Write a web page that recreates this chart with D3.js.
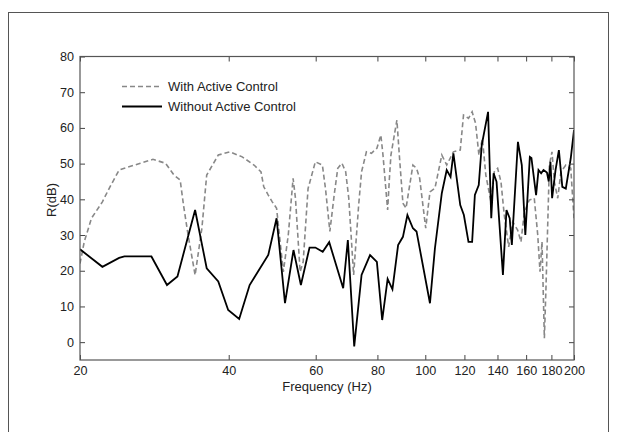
<!DOCTYPE html>
<html>
<head>
<meta charset="utf-8">
<script src="https://cdn.jsdelivr.net/npm/d3@7"></script>
<style>
  body { margin: 0; background: #fff; }
  svg { display: block; font-family: "Liberation Sans", Arial, sans-serif; }
</style>
</head>
<body>
<svg width="618" height="432"></svg>
<script>
// frequencies (Hz) and R (dB)
var withFreq = [20, 20.4, 21.1, 22.2, 23.0, 24.0, 24.6, 26.5, 28.1, 29.8, 31.0, 31.9, 32.4, 33.1, 34.2, 35.3, 36.1, 38.1, 40.2, 42.6, 45.0, 46.5, 47.1, 48.1, 49.0, 50.0,
  51.6, 52.8, 54.0, 54.6, 55.8, 56.6, 57.9, 59.9, 61.9, 62.8, 64.1, 65.4, 66.5, 67.8, 69.0, 70.0, 71.6, 73.3, 74.3, 76.0, 77.8, 79.8, 81.3, 82.1, 83.9, 84.6, 85.2, 87.6, 88.6,
  90.1, 91.4, 94.4, 96.0, 97.4, 100.2, 102.2, 104.6, 108, 110.5, 114, 117.7, 119.5, 122.3, 124.4, 126.4, 128.4, 130.5, 132.6, 135.8, 137.9, 140.1, 142.3, 144.5,
  147.5, 150.3, 153.8, 156.2, 158.7, 162.4, 166.2, 168.9, 170.7, 172.3, 174.2, 175.5, 178.3, 180.5, 182.5, 185.4, 188.2, 192.5, 197, 200];
var withVal = [22, 28.1, 34.7, 39.3, 43.5, 48.2, 48.7, 50.1, 51.2, 50.1, 46.8, 45.4, 38.4, 30, 18.8, 31.9, 46.8, 52.4, 53.3, 51.9, 49.6, 47.7, 43.5, 41.2, 39.3, 37.5,
  19.7, 30, 45.9, 40.3, 19.7, 22.5, 43, 50.5, 49.6, 43, 31, 41.2, 48.7, 50.1, 47.7, 40.3, 18.8, 38.4, 47.7, 53.3, 52.9, 54.3, 58, 52.4, 37, 45.9, 52.4, 62.2, 52.4,
  38.9, 37.5, 49.6, 48.7, 45.9, 31.9, 42.1, 43.1, 52.4, 49.6, 53.3, 53.8, 63.6, 62.7, 64.5, 61.3, 52.4, 57, 46.8, 39.3, 47.7, 48.7, 44.9, 35.6,
  26.7, 33.7, 31.4, 28.1, 36.5, 39.8, 40.3, 30, 19.7, 28.1, 1.1, 15.1, 49.6, 53.3, 44.9, 40.3, 47.7, 49.6, 48.7, 34.7];

var withoutFreq = [20, 22.2, 24.0, 24.6, 27.9, 30.0, 31.5, 34.2, 36.1, 38.1, 39.9, 42.0, 44.1, 48.1, 50.0, 52.0, 54.1, 56.0, 58.3, 59.9, 62.0, 63.9, 68.2, 69.7,
  71.8, 74.3, 77.3, 79.8, 81.8, 83.9, 85.8, 88.1, 90.1, 92.0, 94.4, 96.0, 102.2, 104.6, 108, 110.5, 112.5, 114, 117.7, 119.7, 122.3, 124.4, 126, 128.3,
  130.1, 134, 136, 137.5, 139.4, 143.6, 146, 148.2, 149.7, 154, 156.8, 159.4, 162.8, 164, 167.6, 169.5, 171.6, 173.5, 176.3, 177.8, 179.2, 180.6,
  183.5, 186.4, 189.4, 192.5, 197, 200];
var withoutVal = [26, 21.1, 23.6, 24, 24, 16, 18.4, 37, 20.7, 17, 9, 6.5, 16, 24.4, 34.7, 10.9, 25.8, 16, 26.5, 26.5, 25.3, 28, 15.1, 28.6,
  -1.2, 18.8, 24.4, 22.5, 6.2, 17.7, 14.8, 27.2, 29.5, 35.6, 31.9, 31, 10.9, 26.3, 41.7, 48.2, 46.3, 52.9, 38.4, 35.6, 28.1, 28.1, 41.2, 44,
  55.2, 64.5, 34.7, 47.3, 44.9, 18.8, 37, 34.7, 27.2, 56.1, 49.6, 30, 51.9, 51.6, 41.2, 48.2, 47.3, 48.2, 47.5, 45, 50.5, 40.3,
  48.2, 53.8, 43.5, 43, 51.5, 59.4];

var xTicks = [20, 40, 60, 80, 100, 120, 140, 160, 180, 200];
var yTicks = [0, 10, 20, 30, 40, 50, 60, 70, 80];

var svg = d3.select("svg");

var x = d3.scaleLog().domain([20, 200]).range([80, 574]);
var y = d3.scaleLinear().domain([-5, 80]).range([360, 56.5]);

// outer frame
svg.append("rect")
    .attr("x", 8.5).attr("y", 12.5)
    .attr("width", 600).attr("height", 440)
    .attr("fill", "none").attr("stroke", "#555").attr("stroke-width", 1);

var withData = withFreq.map(function(f, i) { return [f, withVal[i]]; });
var withoutData = withoutFreq.map(function(f, i) { return [f, withoutVal[i]]; });

var line = d3.line()
    .x(function(d) { return x(d[0]); })
    .y(function(d) { return y(d[1]); });

svg.append("defs").append("clipPath").attr("id", "clip")
  .append("rect").attr("x", 80).attr("y", 56.5).attr("width", 494).attr("height", 303.5);

var plot = svg.append("g").attr("clip-path", "url(#clip)");

plot.append("path")
    .datum(withData)
    .attr("d", line)
    .attr("fill", "none")
    .attr("stroke", "#888")
    .attr("stroke-width", 1.6)
    .attr("stroke-dasharray", "5,3");

plot.append("path")
    .datum(withoutData)
    .attr("d", line)
    .attr("fill", "none")
    .attr("stroke", "#000")
    .attr("stroke-width", 1.8);

function styleAxis(g, showText) {
  g.select(".domain").remove();
  g.selectAll("line").attr("stroke", "#444");
  g.selectAll("text")
    .attr("fill", "#222")
    .style("font-size", "12.6px")
    .style("font-family", "'Liberation Sans', Arial, sans-serif");
  if (!showText) g.selectAll("text").remove();
}

svg.append("g").attr("transform", "translate(0,360)")
    .call(d3.axisBottom(x).tickValues(xTicks).tickFormat(d3.format("d")).tickSizeInner(-5).tickSizeOuter(0).tickPadding(6))
    .call(styleAxis, true);
svg.append("g").attr("transform", "translate(0,56.5)")
    .call(d3.axisTop(x).tickValues(xTicks).tickSizeInner(-5).tickSizeOuter(0))
    .call(styleAxis, false);
svg.append("g").attr("transform", "translate(80,0)")
    .call(d3.axisLeft(y).tickValues(yTicks).tickSizeInner(-5).tickSizeOuter(0).tickPadding(6))
    .call(styleAxis, true);
svg.append("g").attr("transform", "translate(574,0)")
    .call(d3.axisRight(y).tickValues(yTicks).tickSizeInner(-5).tickSizeOuter(0))
    .call(styleAxis, false);

// box
svg.append("rect")
    .attr("x", 80).attr("y", 56.5).attr("width", 494).attr("height", 303.5)
    .attr("fill", "none").attr("stroke", "#555").attr("stroke-width", 1.2);

// axis labels
svg.append("text")
    .attr("x", 327).attr("y", 391)
    .attr("text-anchor", "middle")
    .attr("fill", "#222")
    .style("font-size", "13px")
    .text("Frequency  (Hz)");

svg.append("text")
    .attr("transform", "translate(56,200) rotate(-90)")
    .attr("text-anchor", "middle")
    .attr("fill", "#222")
    .style("font-size", "13px")
    .text("R(dB)");

// legend
var legend = [
  { name: "With Active Control", stroke: "#888", dash: "5,3", w: 1.6, y: 86.5 },
  { name: "Without Active Control", stroke: "#000", dash: null, w: 1.8, y: 106.5 }
];
legend.forEach(function(d) {
  svg.append("line")
      .attr("x1", 122).attr("x2", 162)
      .attr("y1", d.y).attr("y2", d.y)
      .attr("stroke", d.stroke)
      .attr("stroke-width", d.w)
      .attr("stroke-dasharray", d.dash);
  svg.append("text")
      .attr("x", 168).attr("y", d.y + 4.5)
      .attr("fill", "#222")
      .style("font-size", "13px")
      .text(d.name);
});
</script>
</body>
</html>
